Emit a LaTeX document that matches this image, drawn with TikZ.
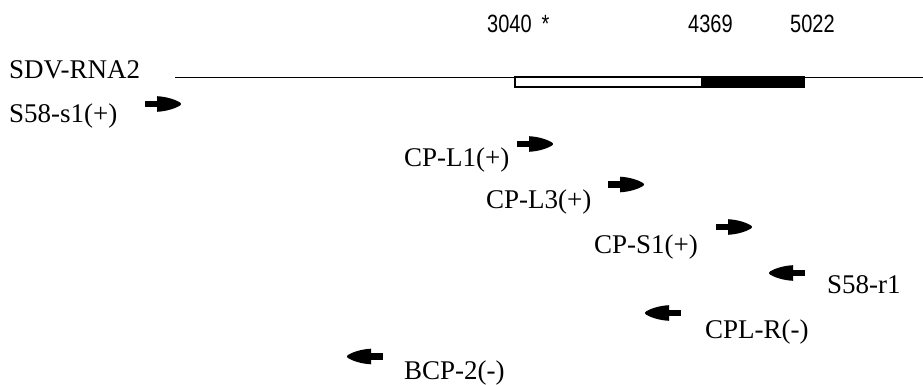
\documentclass[tikz,border=0pt]{standalone}
\usepackage{fontspec}
\setmainfont{Liberation Serif}
\newfontfamily\numfont[FakeStretch=0.8]{Liberation Sans}
\begin{document}
\begin{tikzpicture}[x=1pt,y=-1pt,
  lbl/.style={anchor=base west,inner sep=0pt,font=\fontsize{27}{31}\selectfont},
  posn/.style={anchor=base west,inner sep=0pt,font=\numfont\fontsize{25}{30}\selectfont},
  primer/.pic={
    \fill (0,-3.2) rectangle (13,3.2);
    \fill (12,-7.8) .. controls (22,-7.3) and (31,-4.2) .. (35.3,-1.3)
          .. controls (36.3,0) .. (35.3,1.3)
          .. controls (31,4.2) and (22,7.3) .. (12,7.8) -- cycle;
  }]
  \useasboundingbox (0,0) rectangle (923,385);

  % genome coordinates above the map
  \node[posn] (p3040) at (487,33) {3040\kern10pt*};
  \node[posn] (p4369) at (688,33) {4369};
  \node[posn] (p5022) at (790,33) {5022};

  % RNA2 backbone with the coding region
  \node[lbl] (rna) at (9,78.5) {SDV-RNA2};
  \coordinate (lineL) at (175,77.4);
  \coordinate (lineR) at (923,77.4);
  \draw[line width=1.3pt] (lineL) -- (lineR);
  \draw[line width=2.4pt, fill=white] (515.2,77) rectangle (702,87.2);
  \fill (702,75.8) rectangle (805,88.4);

  % primers: sense primers point right, antisense primers point left
  \node[lbl] (s58s1) at (9,123) {S58-s1(+)};
  \pic at (145,104) {primer};

  \node[lbl] (cpl1) at (404,166.7) {CP-L1(+)};
  \pic at (517,144) {primer};

  \node[lbl] (cpl3) at (486,208) {CP-L3(+)};
  \pic at (608,184.5) {primer};

  \node[lbl] (cps1) at (594,253) {CP-S1(+)};
  \pic at (716,227) {primer};

  \node[lbl] (s58r1) at (827,293.3) {S58-r1};
  \pic[xscale=-1] at (805,273) {primer};

  \node[lbl] (cplr) at (705,338) {CPL-R(-)};
  \pic[xscale=-1] at (681,313) {primer};

  \node[lbl] (bcp2) at (404,379.5) {BCP-2(-)};
  \pic[xscale=-1] at (383,356.5) {primer};
\end{tikzpicture}
\end{document}
